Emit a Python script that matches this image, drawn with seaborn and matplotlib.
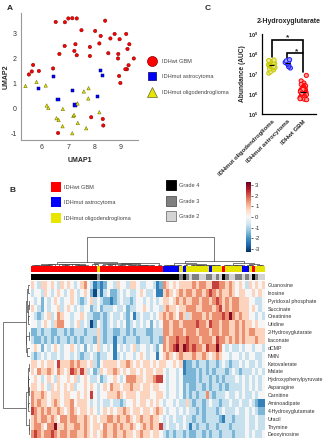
import matplotlib
matplotlib.use("Agg")
import matplotlib.pyplot as plt
import numpy as np
import pandas as pd
import seaborn as sns
from matplotlib.colors import ListedColormap
from matplotlib.lines import Line2D
from matplotlib.ticker import NullLocator

GBM, AST, OLI = "IDHwt GBM", "IDHmut astrocytoma", "IDHmut oligodendroglioma"
RED, BLUE, YEL = "#ff0000", "#0000ff", "#e6e600"

# ---- panel A: UMAP coordinates ----
gbm_x = [6.52, 6.87, 7.0, 7.15, 7.32, 8.4, 7.5, 8.02, 8.76, 9.2, 8.23, 8.6, 8.95, 9.32,
         7.27, 6.86, 8.18, 7.82, 9.25, 7.23, 6.66, 7.32, 7.82, 8.52, 8.9, 8.89, 9.49,
         5.66, 5.88, 5.61, 5.5, 6.42, 9.29, 9.23, 9.17, 8.93, 8.98, 7.87, 8.31, 8.33, 6.61]
gbm_y = [3.45, 3.44, 3.59, 3.6, 3.59, 3.5, 3.12, 3.09, 2.97, 2.97, 2.89, 2.79, 2.76, 2.56,
         2.56, 2.49, 2.59, 2.45, 2.37, 2.29, 2.17, 2.12, 2.09, 2.2, 2.17, 1.99, 1.99,
         1.73, 1.49, 1.47, 1.35, 1.59, 1.72, 1.56, 1.56, 1.29, 1.01, -0.36, -0.43, -0.69, -0.99]
ast_x = [6.44, 5.86, 8.23, 8.31, 7.17, 8.12, 6.61, 7.26]
ast_y = [1.28, 0.79, 1.51, 1.31, 0.72, 0.47, 0.36, 0.13]
oli_x = [5.37, 5.79, 6.14, 6.18, 6.24, 6.79, 7.35, 7.19, 7.22, 7.59, 7.77, 7.76, 8.18,
         6.55, 6.63, 6.78, 7.36, 7.68, 7.15]
oli_y = [0.89, 1.05, 0.91, 0.11, 0.01, -0.03, 0.19, -0.31, -0.27, 0.67, 0.8, 0.39, -0.16,
         -0.4, -0.47, -0.72, -0.59, -0.8, -1.0]

# ---- panel C: 2-hydroxyglutarate abundance (AUC) ----
hg_oli = [1.1e7, 1.3e7, 1.6e7, 1.8e7, 2.0e7, 2.1e7, 2.3e7, 2.5e7, 2.6e7, 2.7e7, 2.9e7,
          3.0e7, 3.2e7, 3.4e7, 3.6e7, 3.9e7, 4.1e7, 4.4e7, 4.7e7, 5.0e7, 2.4e7]
hg_ast = [2.0e7, 2.3e7, 2.8e7, 3.2e7, 3.5e7, 3.8e7, 4.2e7, 4.5e7, 5.2e7]
hg_gbm = [8.5e6, 4.5e6, 3.5e6, 3.0e6, 2.7e6, 2.5e6, 2.3e6, 2.1e6, 2.0e6, 1.9e6, 1.8e6,
          1.7e6, 1.6e6, 1.55e6, 1.5e6, 1.45e6, 1.4e6, 1.35e6, 1.3e6, 1.25e6, 1.2e6,
          1.15e6, 1.1e6, 1.05e6, 1.0e6, 9.6e5, 9.2e5, 8.8e5, 8.4e5, 8.0e5, 7.6e5, 7.2e5,
          6.8e5, 6.5e5, 6.2e5, 5.8e5, 5.5e5, 5.2e5, 1.7e6, 1.3e6, 1.1e6]

# ---- panel B: heatmap (z-scores, coded 0..8 -> -3..3) ----
metabolites = ["Guanosine", "Inosine", "Pyridoxal phosphate", "Succinate", "Creatinine",
               "Uridine", "2-Hydroxyglutarate", "Itaconate", "dCMP", "NMN", "Ketovalerate",
               "Malate", "Hydroxyphenylpyruvate", "Asparagine", "Carnitine", "Aminoadipate",
               "4-Hydroxyglutamate", "Uracil", "Thymine", "Deoxyinosine"]
sample_group = ("RRRRRRRRRRRRRRRRRRRR" "Y" "RRRRRRRRRRRRRRRRRRR" "BBBBB" "Y" "B" "YYYYYYY"
                "B" "YYY" "R" "YYYYY" "BB" "Y" "R" "YYY")
sample_grade = ("44444444444444444444" "3" "4444444444444444444" "44444" "3" "4" "3233223"
                "3" "232" "4" "32233" "23" "2" "4" "322")
heat_rows = [
    "543554543545434564312124" "435443554334431265454555" "56566557766565454354545",
    "344354345434543454203134" "223434334543341156545656" "65665676565565455445454",
    "434243454344543234534322" "123433234434343455456565" "56656656765656655544334",
    "543243445345434344234233" "343342334454344356554556" "66556665675656655545434",
    "432345346544344543322323" "433432413433434565654653" "56665656667686565544343",
    "443454356644345343024323" "434342343434243466566566" "66766576656655656554544",
    "223233223323233323335323" "322332323332233366566656" "66566656656655656566555",
    "322323232332323233325323" "313323332333233265667667" "66656665766565656555655",
    "454243454344543424345343" "414343453443432465678687" "67665766864343343443443",
    "323434334344343233432334" "413434434543441456545655" "56556545654434434344334",
    "554545547555656554532455" "554556545455454554454512" "23233233234323343433434",
    "546556546545765753423545" "565454554545545543443412" "22323232333234323334343",
    "454345435445453454334234" "454346665545567743443422" "22323323232333434343434",
    "554543545454534454543454" "655455655455455443443423" "22332323323233334343434",
    "655654555455445454743445" "556545554555445543443423" "23233632333433434334344",
    "656554565455645554343433" "433234454554545434434335" "32332343323343343343211",
    "765656556545654554543454" "545565455455456543443434" "33232333234333433434322",
    "565665654665665565454556" "656556545655655434343343" "32332333321332333433433",
    "566546685565566565455465" "565655654565655734334343" "13233233233323333433433",
    "676566765665665565454565" "565565545655455432323323" "22332323323332333434334",
]

W, H = 336, 440


def rect(x0, y0, x1, y1):
    return [x0 / W, 1 - y1 / H, (x1 - x0) / W, (y1 - y0) / H]


def chain_ward(mat):
    # ward merging restricted to neighbours, so the drawn leaf order is kept;
    # heights use ward cost ** 0.75 so low merges sit close to the leaves
    groups = [[i] for i in range(len(mat))]
    pos = [i + 0.5 for i in range(len(mat))]
    hgt = [0.0] * len(mat)
    links = []
    while len(groups) > 1:
        best, kb = None, 0
        for k in range(len(groups) - 1):
            a, b = groups[k], groups[k + 1]
            diff = mat[a].mean(axis=0) - mat[b].mean(axis=0)
            d = (2.0 * len(a) * len(b) / (len(a) + len(b)) * (diff ** 2).sum()) ** 0.75
            if best is None or d < best:
                best, kb = d, k
        h = max(best, hgt[kb], hgt[kb + 1])
        links.append((pos[kb], hgt[kb], pos[kb + 1], hgt[kb + 1], h))
        groups[kb:kb + 2] = [groups[kb] + groups[kb + 1]]
        pos[kb:kb + 2] = [(pos[kb] + pos[kb + 1]) / 2]
        hgt[kb:kb + 2] = [h]
    return links


def main():
    sns.set_style("white")
    plt.rcParams["font.family"] = ["Liberation Sans", "DejaVu Sans"]
    plt.rcParams["axes.unicode_minus"] = False
    fig = plt.figure(figsize=(W / 100, H / 100), dpi=100, facecolor="white")

    # ---------------- A ----------------
    ax_a = fig.add_axes(rect(21, 12.7, 138, 140))
    umap = pd.DataFrame({
        "UMAP1": gbm_x + ast_x + oli_x,
        "UMAP2": gbm_y + ast_y + oli_y,
        "group": [GBM] * len(gbm_x) + [AST] * len(ast_x) + [OLI] * len(oli_x),
    })
    sns.scatterplot(data=umap, x="UMAP1", y="UMAP2", hue="group", style="group",
                    palette={GBM: RED, AST: BLUE, OLI: YEL},
                    markers={GBM: "o", AST: "s", OLI: "^"}, s=6, linewidth=0.35,
                    ax=ax_a, legend=False)
    for coll in ax_a.collections:
        fc = np.array(coll.get_facecolors())
        ec = fc.copy()
        ec[:, :3] *= 0.45
        coll.set_edgecolors(ec)
    ax_a.set_xlim(5.2, 9.65)
    ax_a.set_ylim(-1.27, 3.82)
    ax_a.set_xticks([6, 7, 8, 9])
    ax_a.set_yticks([-1, 0, 1, 2, 3])
    ax_a.tick_params(labelsize=5, length=2, width=0.6, color="#888888", labelcolor="#333333", pad=1)
    for sp in ["top", "right"]:
        ax_a.spines[sp].set_visible(False)
    for sp in ["left", "bottom"]:
        ax_a.spines[sp].set_color("#999999")
        ax_a.spines[sp].set_linewidth(0.8)
    ax_a.set_xlabel("UMAP1", fontsize=5, fontweight="bold", labelpad=4)
    ax_a.set_ylabel("UMAP2", fontsize=5, fontweight="bold", labelpad=1)

    umap_handles = [
        Line2D([], [], ls="none", marker="o", ms=7.2, mfc=RED, mec="#8b0000", mew=0.5),
        Line2D([], [], ls="none", marker="s", ms=6.2, mfc=BLUE, mec="#000060", mew=0.5),
        Line2D([], [], ls="none", marker="^", ms=7.6, mfc=YEL, mec="#666633", mew=0.5),
    ]
    fig.legend(umap_handles, [GBM, AST, OLI], loc="upper left",
               bbox_to_anchor=(147 / W, 1 - 58.6 / H), frameon=False, fontsize=4.1,
               handlelength=1.75, handletextpad=0.9, labelspacing=1.9, borderpad=0,
               borderaxespad=0, labelcolor="#444444")

    # ---------------- C ----------------
    ax_c = fig.add_axes(rect(262, 34, 316, 114))
    order = [OLI, AST, GBM]
    hg = pd.DataFrame({
        "group": [OLI] * len(hg_oli) + [AST] * len(hg_ast) + [GBM] * len(hg_gbm),
        "value": hg_oli + hg_ast + hg_gbm,
    })
    sns.stripplot(data=hg, x="group", y="value", hue="group", order=order,
                  palette={OLI: "#c8c800", AST: "#1a1aff", GBM: RED}, jitter=0.22,
                  size=3.0, linewidth=0.7, log_scale=True, ax=ax_c, legend=False)
    for coll in ax_c.collections:
        fc = np.array(coll.get_facecolors())
        coll.set_edgecolors(fc)
        light = fc.copy()
        light[:, :3] = 0.4 * fc[:, :3] + 0.6
        coll.set_facecolors(light)
    for i, vals in enumerate([hg_oli, hg_ast, hg_gbm]):
        ax_c.hlines(np.median(vals), i - 0.18, i + 0.18, color="black", lw=0.8, zorder=5)

    top = max(hg_oli + hg_ast + hg_gbm)
    y_outer, y_inner = top * 10 ** 0.98, top * 10 ** 0.31
    ax_c.plot([0, 0, 2, 2], [max(hg_oli) * 1.35, y_outer, y_outer, max(hg_gbm) * 1.4],
              color="black", lw=1.2, solid_joinstyle="miter")
    ax_c.plot([1, 1, 2], [max(hg_ast) * 1.15, y_inner, y_inner], color="black", lw=1.2,
              solid_joinstyle="miter")
    ax_c.text(1, y_outer * 1.25, "*", ha="center", va="center", fontsize=6, fontweight="bold")
    ax_c.text(1.55, y_inner * 1.25, "*", ha="center", va="center", fontsize=6, fontweight="bold")

    ax_c.set_ylim(1e5, 1e9)
    ax_c.set_xlim(-0.6, 2.8)
    ax_c.set_yticks([1e5, 1e6, 1e7, 1e8, 1e9])
    ax_c.yaxis.set_minor_locator(NullLocator())
    ax_c.set_xticks(range(3))
    ax_c.set_xticklabels(order, rotation=45, ha="right", rotation_mode="anchor",
                         fontsize=4.3, fontweight="bold")
    ax_c.tick_params(axis="y", labelsize=4, length=2, width=0.8, pad=1)
    ax_c.tick_params(axis="x", length=2, width=0.8, pad=1.5)
    for lbl in ax_c.get_yticklabels():
        lbl.set_fontweight("bold")
    for sp in ["top", "right"]:
        ax_c.spines[sp].set_visible(False)
    for sp in ["left", "bottom"]:
        ax_c.spines[sp].set_linewidth(0.9)
        ax_c.spines[sp].set_color("black")
    ax_c.set_xlabel("")
    ax_c.set_ylabel("Abundance (AUC)", fontsize=4.8, fontweight="bold", labelpad=1.5)
    ax_c.set_title("2-Hydroxyglutarate", fontsize=5, fontweight="bold", pad=8)

    # ---------------- B ----------------
    n_cols = len(sample_group)
    heat = np.array([[(int(ch) - 4) * 0.75 for ch in row] for row in heat_rows])
    heat_df = pd.DataFrame(heat, index=metabolites)

    ax_h = fig.add_axes(rect(30.7, 281, 265, 438.3))
    cax = fig.add_axes(rect(246, 182, 251, 252))
    sns.heatmap(heat_df, ax=ax_h, cmap="RdBu_r", vmin=-3.3, vmax=3.3, cbar_ax=cax,
                xticklabels=False, yticklabels=metabolites)
    ax_h.yaxis.tick_right()
    ax_h.tick_params(axis="y", length=0, labelsize=3.8, labelcolor="#333333", pad=2,
                     labelrotation=0)
    cbar = ax_h.collections[0].colorbar
    cbar.set_ticks([3, 2, 1, 0, -1, -2, -3])
    cbar.outline.set_visible(False)
    cax.tick_params(labelsize=4.3, length=1.5, width=0.5, pad=1.5, labelcolor="#333333")

    group_codes = {"R": 0, "B": 1, "Y": 2}
    ax_g = fig.add_axes(rect(30.7, 266, 265, 272.3))
    sns.heatmap(np.array([[group_codes[c] for c in sample_group]]), ax=ax_g,
                cmap=ListedColormap([RED, BLUE, YEL]), vmin=-0.5, vmax=2.5, cbar=False,
                xticklabels=False, yticklabels=False)
    grade_codes = {"4": 0, "3": 1, "2": 2}
    ax_gr = fig.add_axes(rect(30.7, 273.5, 265, 279.5))
    sns.heatmap(np.array([[grade_codes[c] for c in sample_grade]]), ax=ax_gr,
                cmap=ListedColormap(["#000000", "#808080", "#d4d4d4"]), vmin=-0.5,
                vmax=2.5, cbar=False, xticklabels=False, yticklabels=False)

    # dendrograms
    col_links = chain_ward(heat.T)
    ax_cd = fig.add_axes(rect(30.7, 237, 265, 265.5))
    for p1, h1, p2, h2, h in col_links:
        ax_cd.plot([p1, p1, p2, p2], [h1, h, h, h2], color="#444444", lw=0.5)
    ax_cd.set_xlim(0, n_cols)
    ax_cd.set_ylim(0, col_links[-1][4])
    ax_cd.axis("off")

    row_links = chain_ward(heat)
    ax_rd = fig.add_axes(rect(3, 281, 30, 438.3))
    for p1, h1, p2, h2, h in row_links:
        ax_rd.plot([h1, h, h, h2], [p1, p1, p2, p2], color="#444444", lw=0.5)
    ax_rd.set_ylim(len(metabolites), 0)
    ax_rd.set_xlim(row_links[-1][4], 0)
    ax_rd.axis("off")

    group_handles = [Line2D([], [], ls="none", marker="s", ms=7, mfc=c, mec=c, mew=0)
                     for c in [RED, BLUE, YEL]]
    fig.legend(group_handles, [GBM, AST, OLI], loc="upper left",
               bbox_to_anchor=(51 / W, 1 - 184.6 / H), frameon=False, fontsize=4.1,
               handlelength=1.75, handletextpad=0.5, labelspacing=1.9, borderpad=0,
               borderaxespad=0, labelcolor="#444444")
    grade_handles = [Line2D([], [], ls="none", marker="s", ms=7, mfc=f, mec=e, mew=0.6)
                     for f, e in [("#000000", "#000000"), ("#808080", "#555555"),
                                  ("#d4d4d4", "#777777")]]
    fig.legend(grade_handles, ["Grade 4", "Grade 3", "Grade 2"], loc="upper left",
               bbox_to_anchor=(166 / W, 1 - 183 / H), frameon=False, fontsize=4.1,
               handlelength=1.75, handletextpad=0.5, labelspacing=1.85, borderpad=0,
               borderaxespad=0, labelcolor="#444444")

    fig.text(7 / W, 1 - 9 / H, "A", fontsize=6, fontweight="bold", va="center")
    fig.text(10 / W, 1 - 190 / H, "B", fontsize=6, fontweight="bold", va="center")
    fig.text(205 / W, 1 - 9 / H, "C", fontsize=6, fontweight="bold", va="center")

    fig.savefig("out.png", dpi=100, facecolor="white")


if __name__ == "__main__":
    main()
